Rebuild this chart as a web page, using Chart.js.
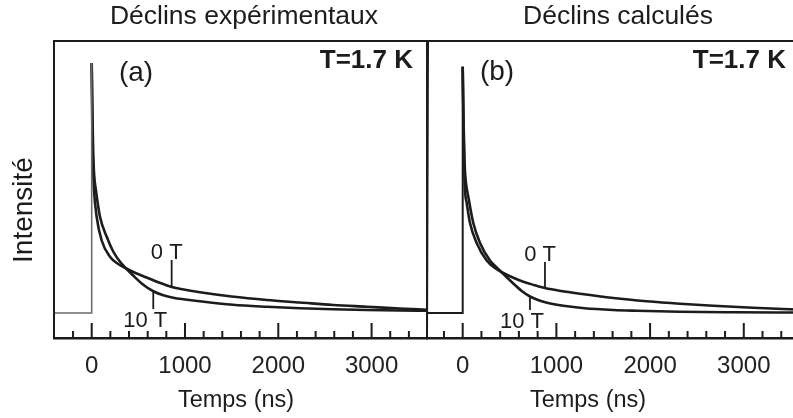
<!DOCTYPE html>
<html>
<head>
<meta charset="utf-8">
<script src="https://cdn.jsdelivr.net/npm/chart.js@4.4.0/dist/chart.umd.min.js"></script>
<style>
  html, body { margin: 0; padding: 0; background: #fff; overflow: hidden; width: 793px; height: 418px; }
  canvas { position: absolute; top: 0; }
  #panelA { left: 0; }
  #panelB { left: 380px; }
</style>
</head>
<body>
<canvas id="panelA" width="430" height="418"></canvas>
<canvas id="panelB" width="420" height="418"></canvas>
<script>
// tick values on the time axis (ns)
const majorTicks = [0, 1000, 2000, 3000];
const minorTicks = [-200, 200, 400, 600, 800, 1200, 1400, 1600, 1800, 2200, 2400, 2600, 2800, 3200, 3400];

// (a) experimental decays, intensity normalised to the peak
const expPulseTime = [-404, 0, 0];
const expPulse = [0, 0, 1.0];
const exp0TTime = [0, 5, 10, 18, 25, 53, 107, 196, 280, 370, 470, 589, 720, 857, 1000, 1161, 1500, 1876, 2233, 2588, 2947, 3300, 3600];
const exp0T = [1.0, 0.8, 0.66, 0.55, 0.49, 0.385, 0.29, 0.225, 0.197, 0.178, 0.16, 0.142, 0.122, 0.104, 0.093, 0.083, 0.066, 0.052, 0.042, 0.032, 0.025, 0.018, 0.013];
const exp10TTime = [0, 8, 15, 25, 46, 89, 161, 232, 300, 370, 450, 553, 660, 760, 875, 1161, 1515, 1876, 2233, 2588, 2947, 3300, 3600];
const exp10T = [1.0, 0.8, 0.66, 0.56, 0.49, 0.385, 0.305, 0.245, 0.207, 0.178, 0.148, 0.113, 0.087, 0.072, 0.061, 0.047, 0.033, 0.025, 0.019, 0.015, 0.012, 0.01, 0.009];

// (b) calculated decays
const calcPulseTime = [-381, 0, 0];
const calcPulse = [0, 0, 0.985];
const calc0TTime = [0, 8, 15, 25, 43, 78, 149, 256, 340, 433, 540, 647, 760, 878, 1050, 1252, 1607, 1964, 2319, 2675, 3100, 3570];
const calc0T = [0.985, 0.75, 0.6, 0.49, 0.44, 0.36, 0.28, 0.21, 0.181, 0.16, 0.141, 0.125, 0.112, 0.1, 0.088, 0.077, 0.06, 0.047, 0.037, 0.029, 0.021, 0.014];
const calc10TTime = [0, 10, 20, 35, 60, 113, 185, 291, 360, 433, 540, 630, 718, 810, 900, 1074, 1300, 1607, 1857, 2319, 2900, 3570];
const calc10T = [0.985, 0.75, 0.6, 0.52, 0.465, 0.36, 0.28, 0.21, 0.183, 0.157, 0.118, 0.088, 0.066, 0.051, 0.041, 0.029, 0.019, 0.012, 0.009, 0.005, 0.003, 0.002];

// field labels: time of the leader line, its top and bottom (intensity)
const expLeaders = [
  { text: "0 T", t: 857, top: 0.212, bottom: 0.104, below: false },
  { text: "10 T", t: 660, top: 0.087, bottom: 0.016, below: true },
];
const calcLeaders = [
  { text: "0 T", t: 878, top: 0.204, bottom: 0.1, below: false },
  { text: "10 T", t: 718, top: 0.066, bottom: 0.012, below: true },
];

const FONT = "'Liberation Sans', Arial, Helvetica, sans-serif";
const INK = "#1c1c1c";

function pts(xs, ys) {
  return xs.map((x, i) => ({ x: x, y: ys[i] }));
}

// frame, inward ticks and free text
function decorPlugin(cfg) {
  return {
    id: "decor",
    afterDraw(chart) {
      const ctx = chart.ctx;
      const a = chart.chartArea;
      const xs = chart.scales.x;
      const ys = chart.scales.y;
      ctx.save();
      ctx.strokeStyle = INK;
      ctx.lineCap = "butt";

      // frame
      ctx.lineWidth = 2;
      ctx.beginPath();
      ctx.moveTo(a.left, a.bottom);
      ctx.lineTo(a.left, a.top);
      ctx.lineTo(a.right + 1, a.top);
      if (cfg.rightBorder) ctx.lineTo(a.right, a.bottom);
      ctx.stroke();

      // ticks pointing into the plot
      ctx.lineWidth = 2;
      ctx.beginPath();
      majorTicks.forEach((v) => {
        const px = xs.getPixelForValue(v);
        ctx.moveTo(px, a.bottom);
        ctx.lineTo(px, a.bottom - 15);
      });
      minorTicks.forEach((v) => {
        const px = xs.getPixelForValue(v);
        if (px <= a.left + 2 || px >= a.right - 2) return;
        ctx.moveTo(px, a.bottom);
        ctx.lineTo(px, a.bottom - 7);
      });
      ctx.stroke();

      // leader lines + field labels
      ctx.fillStyle = INK;
      ctx.font = "22px " + FONT;
      ctx.textAlign = "right";
      ctx.lineWidth = 1.8;
      cfg.leaders.forEach((l) => {
        const px = xs.getPixelForValue(l.t);
        const y1 = ys.getPixelForValue(l.top);
        const y2 = ys.getPixelForValue(l.bottom);
        ctx.beginPath();
        ctx.moveTo(px, y1);
        ctx.lineTo(px, y2);
        ctx.stroke();
        if (l.below) {
          ctx.textBaseline = "top";
          ctx.fillText(l.text, px + 14, y2 + 1);
        } else {
          ctx.textBaseline = "alphabetic";
          ctx.fillText(l.text, px + 11, y1 - 1);
        }
      });

      // texts in page coordinates
      cfg.texts.forEach((t) => {
        ctx.save();
        ctx.font = t.font;
        ctx.fillStyle = INK;
        ctx.textAlign = t.align || "center";
        ctx.textBaseline = "middle";
        ctx.translate(t.x - cfg.offset, t.y);
        if (t.rotate) ctx.rotate(t.rotate);
        ctx.fillText(t.text, 0, 0);
        ctx.restore();
      });
      ctx.restore();
    },
  };
}

function makePanel(id, cfg) {
  return new Chart(document.getElementById(id), {
    type: "line",
    data: {
      datasets: [
        {
          label: "excitation",
          data: pts(cfg.pulseTime, cfg.pulse),
          borderColor: cfg.pulseColor,
          borderWidth: cfg.pulseWidth,
          pointRadius: 0,
          tension: 0,
        },
        {
          label: "0 T",
          data: pts(cfg.t0, cfg.i0),
          borderColor: INK,
          borderWidth: 2.6,
          pointRadius: 0,
          cubicInterpolationMode: "monotone",
        },
        {
          label: "10 T",
          data: pts(cfg.t10, cfg.i10),
          borderColor: INK,
          borderWidth: 2.6,
          pointRadius: 0,
          cubicInterpolationMode: "monotone",
        },
      ],
    },
    options: {
      responsive: false,
      animation: false,
      layout: { padding: { left: cfg.padLeft, right: 3, top: 41, bottom: 0 } },
      scales: {
        x: {
          type: "linear",
          min: cfg.xMin,
          max: cfg.xMax,
          afterBuildTicks: (s) => {
            s.ticks = majorTicks.map((v) => ({ value: v }));
          },
          afterFit: (s) => {
            s.height = 80;
          },
          grid: { display: false, drawTicks: false },
          border: { display: true, color: INK, width: 2.5 },
          ticks: {
            padding: 14,
            color: "#222",
            font: { family: FONT, size: 24 },
            maxRotation: 0,
            callback: (v) => String(v),
          },
        },
        y: {
          display: false,
          min: -0.1,
          max: 1.088,
        },
      },
      plugins: {
        legend: { display: false },
        tooltip: { enabled: false },
      },
    },
    plugins: [decorPlugin(cfg)],
  });
}

makePanel("panelA", {
  offset: 0,
  padLeft: 54,
  xMin: -404,
  xMax: 3594,
  rightBorder: true,
  pulseTime: expPulseTime,
  pulse: expPulse,
  pulseColor: "#6a6a6a",
  pulseWidth: 1.6,
  t0: exp0TTime,
  i0: exp0T,
  t10: exp10TTime,
  i10: exp10T,
  leaders: expLeaders,
  texts: [
    { text: "Déclins expérimentaux", x: 244, y: 17, font: "26.5px " + FONT },
    { text: "(a)", x: 136, y: 73, font: "28px " + FONT },
    { text: "T=1.7 K", x: 413, y: 61, align: "right", font: "bold 26px " + FONT },
    { text: "Temps (ns)", x: 236, y: 401, font: "23.5px " + FONT },
    { text: "Intensité", x: 24, y: 210, rotate: -Math.PI / 2, font: "28px " + FONT },
  ],
});

makePanel("panelB", {
  offset: 380,
  padLeft: 47,
  xMin: -381,
  xMax: 3568,
  rightBorder: false,
  pulseTime: calcPulseTime,
  pulse: calcPulse,
  pulseColor: INK,
  pulseWidth: 2,
  t0: calc0TTime,
  i0: calc0T,
  t10: calc10TTime,
  i10: calc10T,
  leaders: calcLeaders,
  texts: [
    { text: "Déclins calculés", x: 618, y: 17, font: "26.5px " + FONT },
    { text: "(b)", x: 497, y: 72, font: "28px " + FONT },
    { text: "T=1.7 K", x: 786, y: 61, align: "right", font: "bold 26px " + FONT },
    { text: "Temps (ns)", x: 588, y: 401, font: "23.5px " + FONT },
  ],
});
</script>
</body>
</html>
